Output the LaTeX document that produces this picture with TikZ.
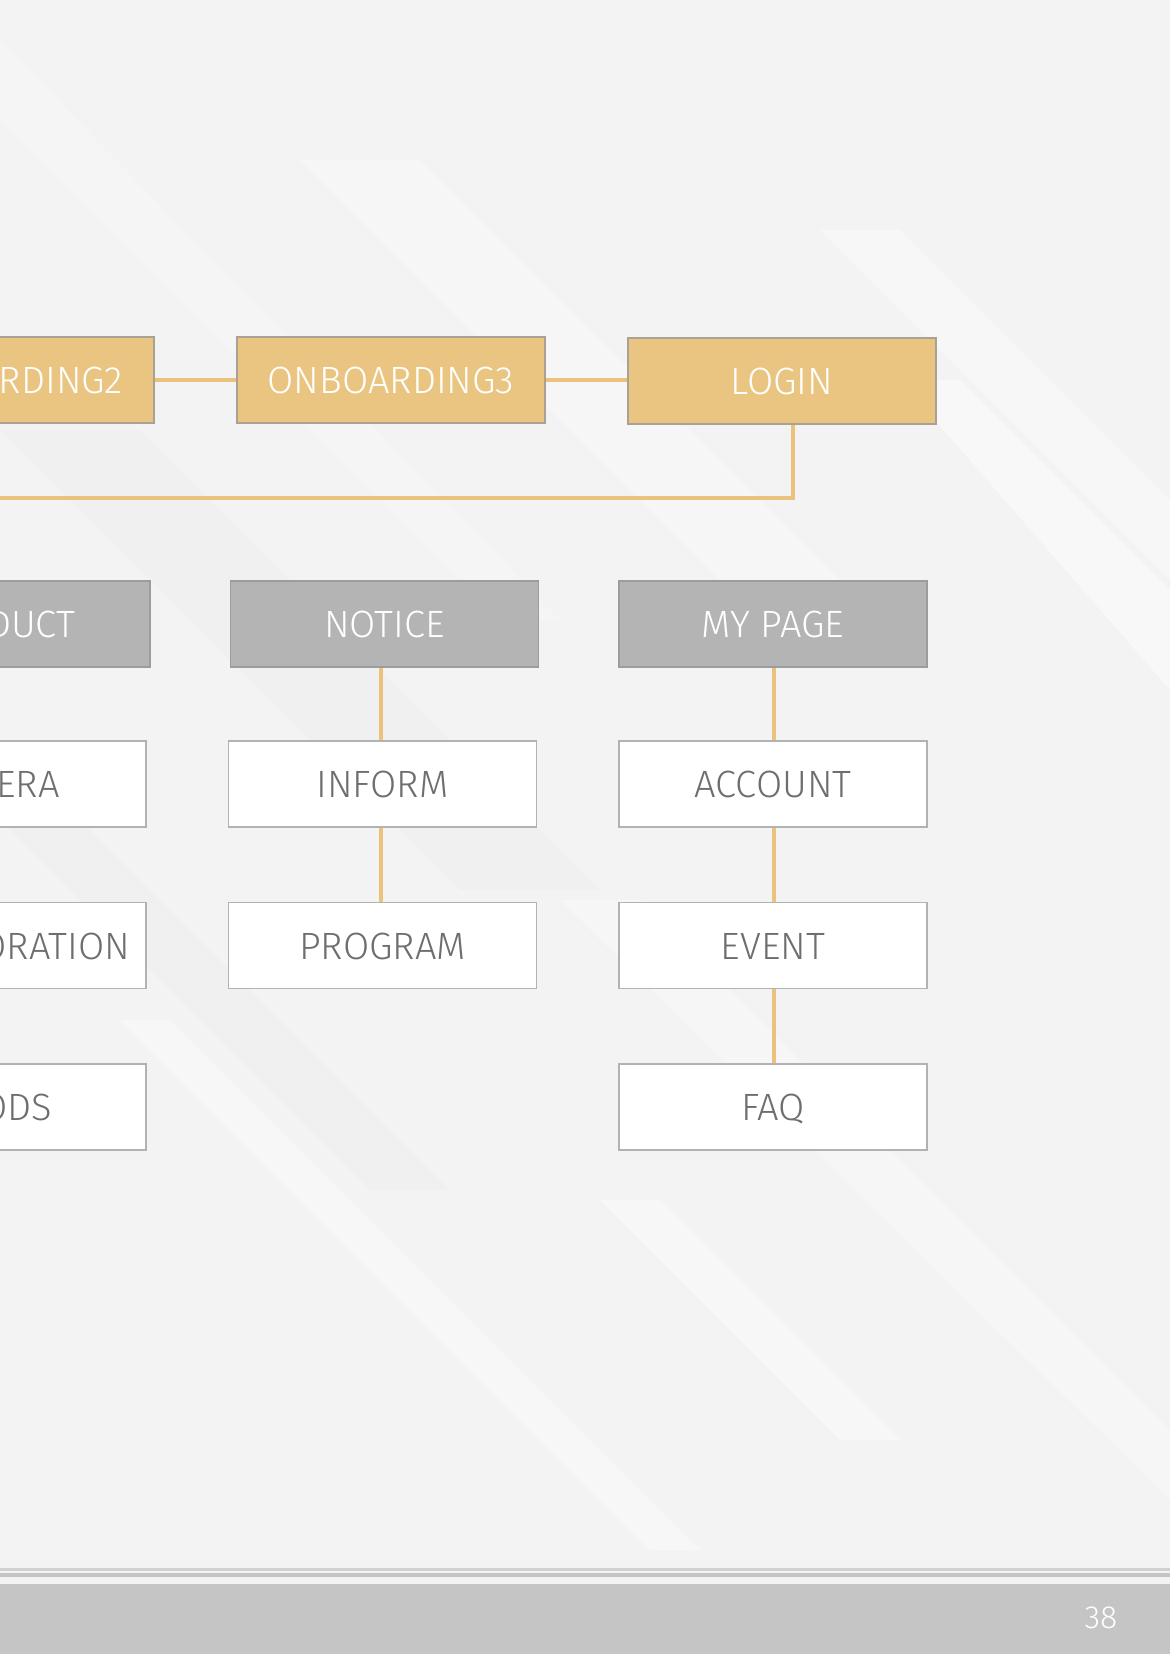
\documentclass[tikz,border=0pt]{standalone}
\usepackage{fontspec}
\setmainfont{Fira Sans}[UprightFont={* Light}]
\begin{document}
\begin{tikzpicture}[x=1pt,y=-1pt,
  box/.style={rectangle,minimum width=308pt,minimum height=86pt,inner sep=0pt,line width=1.2pt,
    font=\fontsize{38}{41}\selectfont,text height=27pt,text depth=0pt},
  goldbox/.style={box,fill=gold,draw=goldedge,text=white},
  graybox/.style={box,fill=boxgray,draw=grayedge,text=white},
  whitebox/.style={box,fill=white,draw=whiteedge,text=textgray},
  link/.style={draw=linkgold,line width=3.2pt}]
\definecolor{bg}{HTML}{F3F3F3}
\definecolor{gold}{HTML}{E9C581}
\definecolor{goldedge}{HTML}{A9A294}
\definecolor{boxgray}{HTML}{B4B4B4}
\definecolor{grayedge}{HTML}{9C9C9C}
\definecolor{whiteedge}{HTML}{B2B2B2}
\definecolor{textgray}{HTML}{6E6E6E}
\definecolor{linkgold}{HTML}{EBC27C}
\definecolor{footer}{HTML}{C6C5C6}
\useasboundingbox (0,0) rectangle (1170,1654);
\fill[bg] (0,0) rectangle (1170,1654);
% diagonal light streaks
\begin{scope}
\clip (0,0) rectangle (1170,1654);
\fill[white,opacity=0.35] (820,230) -- (900,230) -- (1170,500) -- (1170,580) -- cycle;
\fill[white,opacity=0.45] (900,380) -- (960,380) -- (1170,590) -- (1170,690) -- cycle;
\fill[white,opacity=0.2] (0,40) -- (0,120) -- (500,620) -- (560,620) -- cycle;
\fill[white,opacity=0.3] (560,900) -- (640,900) -- (1170,1430) -- (1170,1500) -- cycle;
\fill[white,opacity=0.35] (120,1020) -- (170,1020) -- (700,1550) -- (650,1550) -- cycle;
\fill[white,opacity=0.35] (600,1200) -- (660,1200) -- (900,1440) -- (840,1440) -- cycle;
\fill[white,opacity=0.25] (300,160) -- (420,160) -- (900,640) -- (780,640) -- cycle;
\fill[black,opacity=0.012] (0,430) -- (140,430) -- (600,890) -- (460,890) -- cycle;
\fill[black,opacity=0.01] (0,820) -- (80,820) -- (450,1190) -- (370,1190) -- cycle;
\end{scope}
% footer
\fill[black!18] (0,1568) rectangle (1170,1570.5);
\fill[footer] (0,1573) rectangle (1170,1577);
\fill[footer] (0,1584) rectangle (1170,1654);
\node[text=white,font=\fontsize{32}{34}\selectfont,inner sep=0pt] (pnum) at (1101,1618) {38};
% row 1
\node[goldbox] (ob2) at (0,380) {ONBOARDING2};
\node[goldbox] (ob3) at (391,380) {ONBOARDING3};
\node[goldbox] (login) at (782,381) {LOGIN};
\coordinate (lend) at (-10,498);
\draw[link] (ob2.east) -- (ob3.west);
\draw[link] (ob3.east) -- (ob3.east -| login.west);
\draw[link] (login.south) ++(11,0) |- (lend);
% row 2
\node[graybox] (product) at (-4,624) {PRODUCT};
\node[graybox] (notice) at (384.5,624) {NOTICE};
\node[graybox] (mypage) at (773,624) {MY PAGE};
% row 3
\node[whitebox] (camera) at (-8,784) {CAMERA};
\node[whitebox] (inform) at (382.5,784) {INFORM};
\node[whitebox] (account) at (773,784) {ACCOUNT};
% row 4
\node[whitebox] (collab) at (-8,945.5) {COLLABORATION};
\node[whitebox] (program) at (382.5,945.5) {PROGRAM};
\node[whitebox] (event) at (773,945.5) {EVENT};
% row 5
\node[whitebox] (goods) at (-8,1107) {GOODS};
\node[whitebox] (faq) at (773,1107) {FAQ};
% vertical links
\draw[link] ([xshift=-1.5pt]inform.north) -- ([xshift=-1.5pt]inform.north |- notice.south);
\draw[link] ([xshift=-1.5pt]program.north) -- ([xshift=-1.5pt]inform.south);
\draw[link] ([xshift=1pt]account.north) -- ([xshift=1pt]mypage.south);
\draw[link] ([xshift=1pt]event.north) -- ([xshift=1pt]account.south);
\draw[link] ([xshift=1pt]faq.north) -- ([xshift=1pt]event.south);
\end{tikzpicture}
\end{document}
